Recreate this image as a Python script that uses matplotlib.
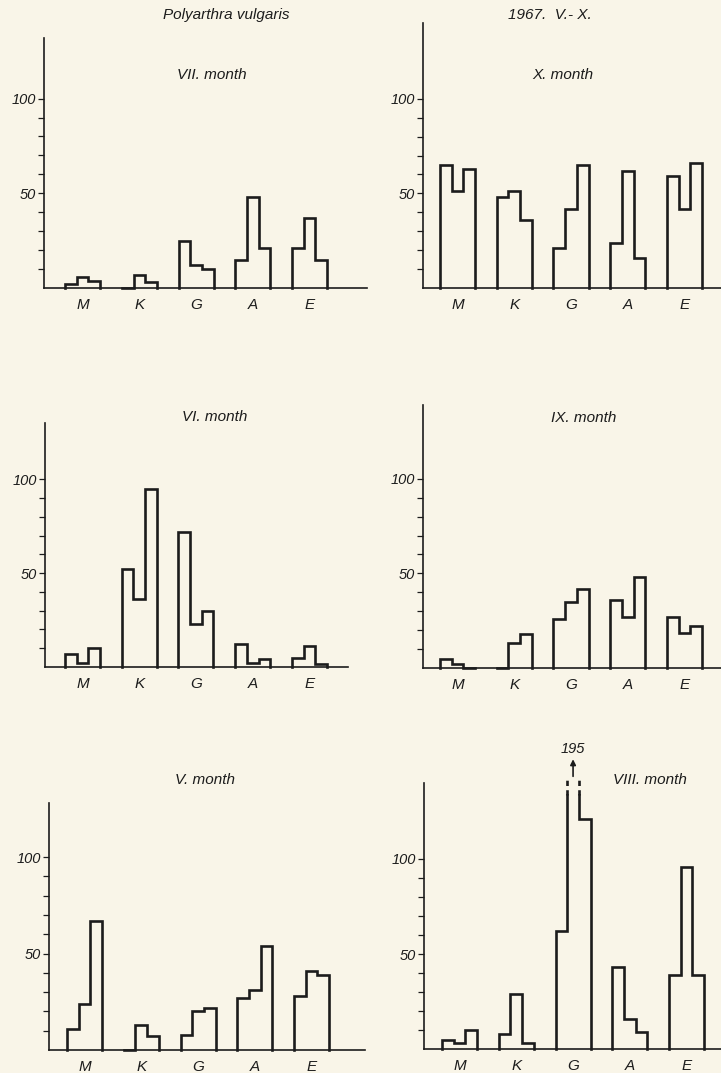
import numpy as np
import matplotlib.pyplot as plt

plt.rcParams['font.family'] = ['Liberation Sans', 'DejaVu Sans']

W, H = 721, 1073
BG = '#f9f5e8'
INK = '#1c1c1c'

sites = ['M', 'K', 'G', 'A', 'E']

# three sub-bars per site
vii = [[2, 6, 3.5], [0, 7, 3], [25, 12, 10], [15, 48, 21], [21, 37, 15]]
oct_ = [[65, 51, 63], [48, 51, 36], [21, 42, 65], [24, 62, 16], [59, 42, 66]]
vi = [[7, 2, 10], [52, 36, 95], [72, 23, 30], [12, 2, 4], [5, 11, 1.5]]
ix = [[5, 2, 0], [0, 13, 18], [26, 35, 42], [36, 27, 48], [27, 18.5, 22]]
v = [[11, 24, 67], [0, 13, 7], [8, 20, 22], [27, 31, 54], [28, 41, 39]]
viii = [[5, 3, 10], [8, 29, 3], [62, 195, 121], [43, 16, 9], [39, 96, 39]]

titles = ['VII. month', 'X. month', 'VI. month', 'IX. month', 'V. month', 'VIII. month']
data = [vii, oct_, vi, ix, v, viii]

# layout in pixels: axis x, axis top, baseline, right end, ylim top, first group offset
layout = [
    (44, 38, 288, 367, 132, 1.8),
    (423, 23, 288, 721, 140, 1.45),
    (45, 423, 667, 348, 130, 1.7),
    (423, 405, 668, 721, 139, 1.45),
    (49, 803, 1050, 365, 128, 1.54),
    (424, 783, 1049, 721, 140, 1.54),
]
title_pos = [(212, 75), (563, 75), (215, 417), (584, 418), (205, 780), (650, 780)]

BARW = 11.7    # px per sub-bar
PITCH = 4.85   # group pitch in bar units
CAP = 133.5    # where the clipped bar gets broken

fig = plt.figure(figsize=(W / 100, H / 100), dpi=100, facecolor=BG)


def step_path(x0, vals, cap):
    xs, ys = [x0], [0]
    for i, val in enumerate(vals):
        if val > cap:
            xs += [x0 + i, np.nan, x0 + i + 1]
            ys += [cap, np.nan, cap]
        else:
            xs += [x0 + i, x0 + i + 1]
            ys += [val, val]
    xs.append(x0 + len(vals))
    ys.append(0)
    return xs, ys


for k, (vals, (axx, top, base, right, ytop, off)) in enumerate(zip(data, layout)):
    ax = fig.add_axes([axx / W, 1 - base / H, (right - axx) / W, (base - top) / H])
    ax.set_facecolor('none')
    ax.set_xlim(0, (right - axx) / BARW)
    ax.set_ylim(0, ytop)
    for s in ['top', 'right']:
        ax.spines[s].set_visible(False)
    for s in ['left', 'bottom']:
        ax.spines[s].set_linewidth(1.2)
        ax.spines[s].set_color(INK)

    centers = []
    for g, grp in enumerate(vals):
        x0 = off + g * PITCH
        xs, ys = step_path(x0, grp, CAP)
        ax.plot(xs, ys, color=INK, lw=1.9, solid_joinstyle='miter', clip_on=False)
        centers.append(x0 + len(grp) / 2)
        for i, val in enumerate(grp):
            if val > CAP:
                for xe in (x0 + i, x0 + i + 1):
                    ax.plot([xe, xe], [CAP, 143], color=INK, lw=1.9,
                            linestyle=(0, (2.0, 1.6)), clip_on=False)
                xc = x0 + i + 0.5
                ax.annotate('', xy=(xc, 152.5), xytext=(xc, 143.5),
                            arrowprops=dict(arrowstyle='-|>', color=INK, lw=1.2,
                                            mutation_scale=8, shrinkA=0, shrinkB=0),
                            annotation_clip=False)
                ax.text(xc, 158, f'{val:g}', ha='center', va='center',
                        fontsize=10.5, style='italic', color=INK)

    ax.set_xticks(centers, sites, fontsize=11, style='italic', color=INK)
    ax.tick_params(axis='x', length=0, pad=7)
    yt = np.arange(10, 101, 10)
    ax.set_yticks(yt, [str(t) if t % 50 == 0 else '' for t in yt],
                  fontsize=10.5, style='italic', color=INK)
    ax.tick_params(axis='y', direction='out', length=4, width=0.9, color=INK, pad=2)

    tx, ty = title_pos[k]
    fig.text(tx / W, 1 - ty / H, titles[k], ha='center', va='center',
             fontsize=11, style='italic', color=INK)

fig.text(226 / W, 1 - 15 / H, 'Polyarthra vulgaris', ha='center', va='center',
         fontsize=11, style='italic', color=INK)
fig.text(550 / W, 1 - 15 / H, '1967.  V.- X.', ha='center', va='center',
         fontsize=11, style='italic', color=INK)

fig.savefig('out.png', dpi=100, facecolor=BG)
